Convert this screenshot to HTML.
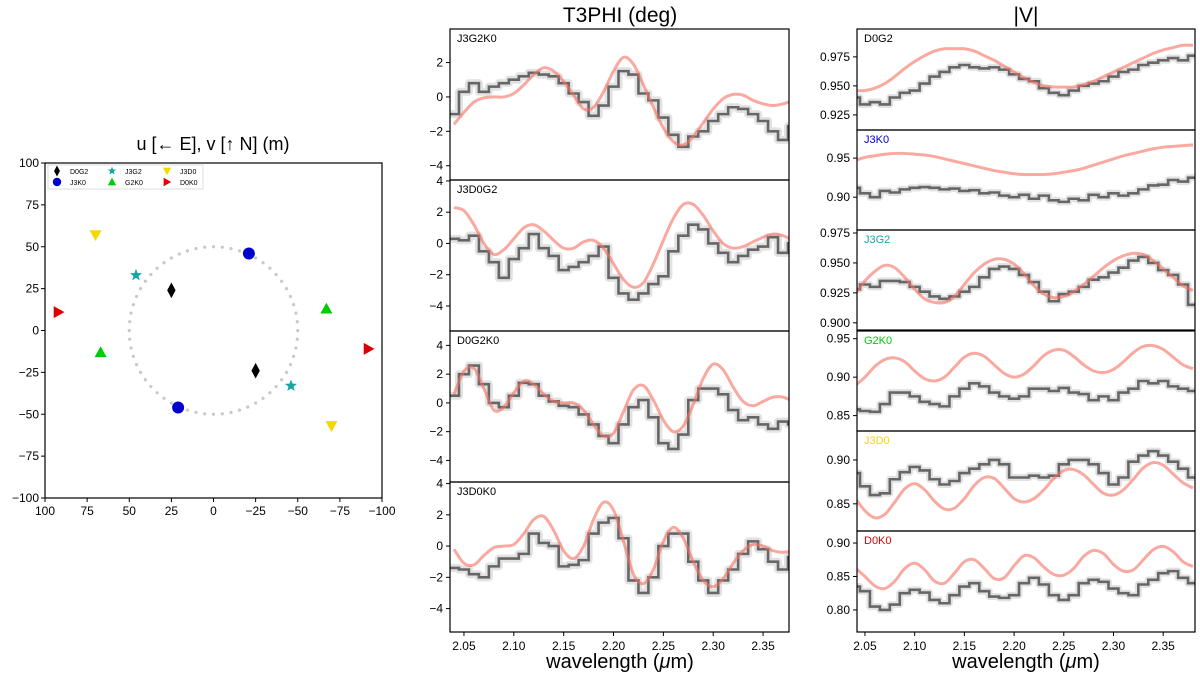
<!DOCTYPE html>
<html><head><meta charset="utf-8">
<style>
body{margin:0;background:#fff;}
svg{display:block;font-family:"Liberation Sans","DejaVu Sans",sans-serif;}
</style></head>
<body>
<svg id="fig" width="1200" height="682" viewBox="0 0 1200 682" xmlns="http://www.w3.org/2000/svg">
<text x="213" y="150" font-size="18" text-anchor="middle">u [← E], v [↑ N] (m)</text>
<text x="620" y="22" font-size="21" text-anchor="middle">T3PHI (deg)</text>
<text x="1026" y="22" font-size="21" text-anchor="middle">|V|</text>
<text x="620" y="668" font-size="20" text-anchor="middle">wavelength (<tspan font-style="italic">μ</tspan>m)</text>
<text x="1026" y="668" font-size="20" text-anchor="middle">wavelength (<tspan font-style="italic">μ</tspan>m)</text>
<g id="uv"></g>
<g id="panels"></g>
</svg>
<script>
const NS='http://www.w3.org/2000/svg';
// ---- UV coverage data ----
const uvNames=['D0G2','J3K0','J3G2','G2K0','J3D0','D0K0'];
const uvU=[25,-21,46,-67,70,92];
const uvV=[24,46,33,13,57,11];
const uvColors=['#000000','#0000cc','#17a6a6','#00cc00','#f5d800','#dd0000'];
const uvTicks=[100,75,50,25,0,-25,-50,-75,-100];
const circleR=50;
// ---- spectra ----
const wl=[2.04,2.05,2.06,2.07,2.08,2.09,2.10,2.11,2.12,2.13,2.14,2.15,2.16,2.17,2.18,2.19,2.20,2.21,2.22,2.23,2.24,2.25,2.26,2.27,2.28,2.29,2.30,2.31,2.32,2.33,2.34,2.35,2.36,2.37,2.38];
const wlTicks=[2.05,2.10,2.15,2.20,2.25,2.30,2.35];
const t3Names=['J3G2K0','J3D0G2','D0G2K0','J3D0K0'];
const t3Data1=[-1,0.3,0.8,0.3,0.6,0.8,1.0,1.2,1.4,1.3,1.2,0.8,0.2,-0.3,-1.1,-0.5,0.6,1.5,1.3,0.2,-0.2,-1.2,-2.2,-2.9,-2.3,-2.0,-1.4,-1.0,-0.6,-0.7,-1.0,-1.4,-2.0,-2.5,-1.7];
const t3Model1=[-1.6,-0.9,-0.3,-0.05,0,0,0.2,0.7,1.3,1.7,1.5,0.9,0.1,-0.7,-0.6,0.3,1.5,2.3,1.9,0.7,-0.6,-1.8,-2.6,-2.8,-2.3,-1.5,-0.7,-0.1,0.15,0.1,-0.2,-0.4,-0.5,-0.4,-0.2];
const t3Data2=[0.3,0.2,0.5,-0.5,-1.2,-2.2,-1.0,-0.3,0.6,-0.3,-0.8,-1.7,-1.5,-1.2,-0.8,-0.2,-2.2,-3.2,-3.6,-3.2,-2.6,-2.1,-0.5,0.5,1.2,0.9,0,-0.6,-1.2,-0.8,-0.4,-0.2,0.4,-0.6,0];
const t3Model2=[2.3,2.1,1.2,0,-0.7,-0.4,0.3,1.0,1.2,0.8,0.2,-0.3,-0.3,0.1,0.2,-0.3,-1.3,-2.3,-2.8,-2.5,-1.3,0.2,1.6,2.5,2.5,1.8,0.8,0,-0.3,-0.2,0.1,0.4,0.6,0.5,0.2];
const t3Data3=[0.5,2.0,2.6,1.3,0,-0.3,0.5,1.4,1.3,0.5,0.1,-0.2,-0.3,-0.8,-1.5,-2.3,-2.8,-1.5,-0.3,0.2,-1.0,-2.8,-3.2,-2.2,0.2,1.0,1.0,0.6,-0.5,-1.2,-1.0,-1.5,-1.8,-1.3,-1.5];
const t3Model3=[0.6,2.2,2.4,1.0,-0.5,-0.3,0.7,1.5,1.3,0.6,0.1,0,0,-0.5,-1.5,-2.3,-2.1,-0.6,0.9,1.2,0.2,-1.2,-2.0,-1.6,-0.1,1.7,2.7,2.3,1.1,0.1,-0.2,0.1,0.4,0.4,0.1];
const t3Data4=[-1.4,-1.5,-1.8,-2.0,-1.3,-0.8,-0.8,-0.5,0.8,0.2,0,-1.3,-1.2,-0.9,0.8,1.5,1.8,0.5,-2.2,-3.0,-2.0,0,0.8,0.8,-1.0,-2.2,-3.0,-2.2,-1.5,-0.5,0.3,-0.2,-1.0,-1.5,-0.7];
const t3Model4=[-0.2,-1.1,-1.2,-0.6,-0.1,0,0.1,0.8,1.7,1.9,1.0,-0.3,-0.8,0,1.7,2.8,2.3,0.3,-1.8,-2.4,-1.5,0.3,1.2,0.5,-1.0,-2.2,-2.6,-2.1,-1.1,-0.3,0.1,0,-0.3,-0.4,-0.3];
const visNames=['D0G2','J3K0','J3G2','G2K0','J3D0','D0K0'];
const visData1=[0.940,0.934,0.936,0.934,0.940,0.944,0.946,0.952,0.958,0.962,0.966,0.968,0.966,0.965,0.966,0.964,0.960,0.956,0.954,0.948,0.944,0.942,0.946,0.950,0.952,0.954,0.958,0.962,0.964,0.968,0.970,0.972,0.974,0.972,0.976];
const visModel1=[0.946,0.946,0.948,0.952,0.958,0.965,0.971,0.976,0.980,0.982,0.982,0.982,0.980,0.976,0.972,0.967,0.962,0.957,0.953,0.950,0.949,0.949,0.949,0.951,0.954,0.958,0.962,0.966,0.970,0.974,0.978,0.981,0.983,0.985,0.985];
const visData2=[0.912,0.905,0.900,0.908,0.906,0.910,0.912,0.913,0.912,0.910,0.911,0.908,0.909,0.905,0.906,0.902,0.900,0.903,0.898,0.902,0.896,0.894,0.898,0.896,0.903,0.900,0.905,0.902,0.905,0.910,0.915,0.916,0.922,0.920,0.925];
const visModel2=[0.947,0.951,0.953,0.955,0.956,0.956,0.955,0.954,0.952,0.949,0.946,0.943,0.940,0.937,0.934,0.932,0.930,0.929,0.929,0.929,0.930,0.932,0.934,0.937,0.941,0.945,0.949,0.953,0.956,0.959,0.962,0.964,0.965,0.966,0.967];
const visData3=[0.928,0.932,0.930,0.935,0.935,0.934,0.930,0.926,0.922,0.920,0.922,0.926,0.930,0.938,0.945,0.947,0.945,0.940,0.934,0.926,0.918,0.924,0.926,0.930,0.936,0.938,0.942,0.946,0.952,0.955,0.950,0.944,0.940,0.932,0.915];
const visModel3=[0.924,0.935,0.943,0.948,0.946,0.938,0.928,0.920,0.917,0.917,0.922,0.932,0.942,0.949,0.953,0.953,0.949,0.941,0.931,0.924,0.921,0.922,0.926,0.932,0.939,0.946,0.952,0.956,0.958,0.957,0.952,0.945,0.938,0.931,0.927];
const visData4=[0.858,0.856,0.855,0.865,0.880,0.880,0.875,0.868,0.865,0.862,0.875,0.885,0.892,0.888,0.880,0.875,0.872,0.875,0.885,0.885,0.882,0.886,0.880,0.878,0.870,0.875,0.870,0.880,0.885,0.895,0.892,0.895,0.888,0.885,0.882];
const visModel4=[0.889,0.900,0.914,0.923,0.925,0.920,0.908,0.898,0.895,0.900,0.913,0.926,0.931,0.927,0.916,0.905,0.900,0.904,0.915,0.928,0.935,0.935,0.927,0.916,0.908,0.906,0.910,0.920,0.932,0.940,0.941,0.936,0.926,0.916,0.911];
const visData5=[0.885,0.870,0.860,0.862,0.878,0.886,0.892,0.888,0.878,0.872,0.876,0.885,0.890,0.895,0.900,0.895,0.880,0.880,0.882,0.880,0.882,0.895,0.900,0.900,0.895,0.885,0.872,0.880,0.898,0.905,0.910,0.905,0.898,0.890,0.880];
const visModel5=[0.857,0.842,0.834,0.838,0.852,0.867,0.873,0.866,0.853,0.844,0.845,0.856,0.871,0.880,0.879,0.868,0.856,0.852,0.856,0.866,0.879,0.888,0.889,0.883,0.872,0.862,0.860,0.866,0.878,0.891,0.897,0.894,0.884,0.874,0.868];
const visData6=[0.835,0.828,0.805,0.800,0.808,0.825,0.830,0.826,0.815,0.810,0.822,0.835,0.840,0.828,0.820,0.818,0.822,0.840,0.848,0.838,0.822,0.815,0.822,0.840,0.845,0.842,0.832,0.825,0.822,0.838,0.845,0.855,0.858,0.848,0.840];
const visModel6=[0.863,0.850,0.836,0.832,0.843,0.862,0.870,0.860,0.843,0.840,0.855,0.872,0.875,0.862,0.847,0.848,0.866,0.881,0.878,0.864,0.853,0.852,0.862,0.880,0.889,0.884,0.868,0.858,0.860,0.875,0.890,0.895,0.887,0.872,0.865];
const t3Ticks1=[2,0,-2,-4], t3Ticks2=[4,2,0,-2,-4], t3Ticks3=[4,2,0,-2,-4], t3Ticks4=[4,2,0,-2,-4];
const visTicks1=[0.975,0.950,0.925], visTicks2=[0.95,0.90], visTicks3=[0.975,0.950,0.925,0.900], visTicks4=[0.95,0.90,0.85], visTicks5=[0.90,0.85], visTicks6=[0.90,0.85,0.80];

function mk(tag,attrs,parent){const e=document.createElementNS(NS,tag);for(const k in attrs)e.setAttribute(k,attrs[k]);parent.appendChild(e);return e;}

// ---- UV plot ----
(function(){
 const g=document.getElementById('uv');
 const L=45,R=382,T=163,B=498;
 const sx=u=>L+(100-u)/200*(R-L);
 const sy=v=>T+(100-v)/200*(B-T);
 for(let i=0;i<60;i++){const a=i/60*2*Math.PI;
  const d=mk('circle',{cx:sx(circleR*Math.cos(a)),cy:sy(circleR*Math.sin(a)),r:1.6,fill:'#c8c8c8'},g);
  
  }
 function marker(i,x,y,parent,s){
  const c=uvColors[i];let e;
  if(i===0)e=mk('polygon',{points:`${x},${y-s*1.3} ${x+s*0.7},${y} ${x},${y+s*1.3} ${x-s*0.7},${y}`,fill:c},parent);
  else if(i===1)e=mk('circle',{cx:x,cy:y,r:s,fill:c},parent);
  else if(i===2){let p=[];for(let k=0;k<10;k++){const a=-Math.PI/2+k*Math.PI/5,r=k%2?s*0.45:s*1.05;p.push((x+r*Math.cos(a))+','+(y+r*Math.sin(a)));}e=mk('polygon',{points:p.join(' '),fill:c},parent);}
  else if(i===3)e=mk('polygon',{points:`${x},${y-s} ${x+s},${y+s*0.8} ${x-s},${y+s*0.8}`,fill:c},parent);
  else if(i===4)e=mk('polygon',{points:`${x},${y+s} ${x+s},${y-s*0.8} ${x-s},${y-s*0.8}`,fill:c},parent);
  else e=mk('polygon',{points:`${x+s},${y} ${x-s*0.8},${y-s} ${x-s*0.8},${y+s}`,fill:c},parent);
  return e;}
 for(let i=0;i<uvNames.length;i++){
  for(const sgn of [1,-1]){
   const m=marker(i,sx(sgn*uvU[i]),sy(sgn*uvV[i]),g,6);
   
   
  }}
 const fr=mk('rect',{x:L,y:T,width:R-L,height:B-T,fill:'none',stroke:'#000','stroke-width':1.2},g);
 
 
 uvTicks.forEach(t=>{
  mk('line',{x1:sx(t),x2:sx(t),y1:B,y2:B+4,stroke:'#000'},g);
  const tx=mk('text',{x:sx(t),y:B+17,'font-size':12,'text-anchor':'middle'},g);tx.textContent=String(t).replace('-','−');
  
  
  mk('line',{x1:L-4,x2:L,y1:sy(t),y2:sy(t),stroke:'#000'},g);
  const ty=mk('text',{x:L-6,y:sy(t)+4,'font-size':12,'text-anchor':'end'},g);ty.textContent=String(t).replace('-','−');
  
  
 });
 const lg=mk('g',{},g);
 
 
 mk('rect',{x:48,y:165,width:155,height:24,fill:'#fff',stroke:'#ddd','stroke-width':1},lg);
 for(let i=0;i<6;i++){
  const col=Math.floor(i/2),row=i%2;
  const x=57+col*55,y=171+row*11;
  marker(i,x,y,lg,4.2);
  const t=mk('text',{x:x+13,y:y+3,'font-size':7},lg);t.textContent=uvNames[i];
  
  
 }
})();

// ---- spectra panels ----
function panel(L,R,T,B,xmin,xmax,ymin,ymax,data,model,err,ticks,fmt,label,labelColor,showX,name){
 const root=document.getElementById('panels');
 const g=mk('g',{},root);
 
 
 const sx=x=>L+(x-xmin)/(xmax-xmin)*(R-L);
 const sy=y=>T+(ymax-y)/(ymax-ymin)*(B-T);
 const cid='clip'+name;
 const cp=mk('clipPath',{id:cid},g);mk('rect',{x:L,y:T,width:R-L,height:B-T},cp);
 const inner=mk('g',{'clip-path':`url(#${cid})`},g);
 let d='';
 const half=0.005;
 data.forEach((v,i)=>{const x0=sx(wl[i]-half),x1=sx(wl[i]+half),y=sy(v);d+=(i?'L':'M')+x0+','+y+'L'+x1+','+y;});
 const band=mk('path',{d:d,fill:'none',stroke:'#e2e2e2','stroke-width':err,'stroke-linejoin':'round'},inner);
 
 
 const dl=mk('path',{d:d,fill:'none',stroke:'#666','stroke-width':2.6},inner);
 
 
 let pts=[];model.forEach((v,i)=>pts.push([sx(wl[i]),sy(v)]));
 let md='M'+pts[0];
 for(let i=0;i<pts.length-1;i++){const p0=pts[Math.max(0,i-1)],p1=pts[i],p2=pts[i+1],p3=pts[Math.min(pts.length-1,i+2)];
  const c1=[p1[0]+(p2[0]-p0[0])/6,p1[1]+(p2[1]-p0[1])/6],c2=[p2[0]-(p3[0]-p1[0])/6,p2[1]-(p3[1]-p1[1])/6];
  md+='C'+c1+' '+c2+' '+p2;}
 const ml=mk('path',{d:md,fill:'none',stroke:'#f56f60','stroke-opacity':0.6,'stroke-width':3},inner);
 
 
 const fr=mk('rect',{x:L,y:T,width:R-L,height:B-T,fill:'none',stroke:'#000','stroke-width':1.2},g);
 
 
 ticks.forEach(t=>{const y=sy(t);if(y<T-1||y>B+1)return;
  mk('line',{x1:L-4,x2:L,y1:y,y2:y,stroke:'#000'},g);
  const tx=mk('text',{x:L-7,y:y+4,'font-size':12,'text-anchor':'end'},g);tx.textContent=fmt(t);
  
  });
 wlTicks.forEach(t=>{const x=sx(t);mk('line',{x1:x,x2:x,y1:B,y2:B+(showX?4:0),stroke:'#000'},g);
  if(showX){const tx=mk('text',{x:x,y:B+18,'font-size':12,'text-anchor':'middle'},g);tx.textContent=t.toFixed(2);
   
   }});
 const lb=mk('text',{x:L+7,y:T+13,'font-size':11,fill:labelColor},g);lb.textContent=label;
 
 
}
const f0=t=>String(t).replace('-','−');
const f2=t=>t.toFixed(2), f3=t=>t.toFixed(3);
const ML=450,MR=789,VL=857,VR=1195;
panel(ML,MR,29,180,2.036,2.376,-4.83,3.95,t3Data1,t3Model1,8,t3Ticks1,f0,t3Names[0],'#000',false,'t3phi-panel-1');
panel(ML,MR,180,331,2.036,2.376,-5.6,4.06,t3Data2,t3Model2,8,t3Ticks2,f0,t3Names[1],'#000',false,'t3phi-panel-2');
panel(ML,MR,331,482,2.036,2.376,-5.5,5.0,t3Data3,t3Model3,8,t3Ticks3,f0,t3Names[2],'#000',false,'t3phi-panel-3');
panel(ML,MR,482,632,2.036,2.376,-5.5,4.1,t3Data4,t3Model4,8,t3Ticks4,f0,t3Names[3],'#000',true,'t3phi-panel-4');
panel(VL,VR,29,130,2.042,2.382,0.912,0.999,visData1,visModel1,7,visTicks1,f3,visNames[0],'#000',false,'vis-panel-1');
panel(VL,VR,130,230,2.042,2.382,0.858,0.986,visData2,visModel2,7,visTicks2,f2,visNames[1],'#0000cc',false,'vis-panel-2');
panel(VL,VR,230,330,2.042,2.382,0.894,0.9775,visData3,visModel3,7,visTicks3,f3,visNames[2],'#17a6a6',false,'vis-panel-3');
panel(VL,VR,331,431,2.042,2.382,0.830,0.960,visData4,visModel4,7,visTicks4,f2,visNames[3],'#00cc00',false,'vis-panel-4');
panel(VL,VR,431,531,2.042,2.382,0.819,0.933,visData5,visModel5,7,visTicks5,f2,visNames[4],'#f5d800',false,'vis-panel-5');
panel(VL,VR,531,632,2.042,2.382,0.767,0.918,visData6,visModel6,7,visTicks6,f2,visNames[5],'#dd0000',true,'vis-panel-6');
</script>
</body></html>
